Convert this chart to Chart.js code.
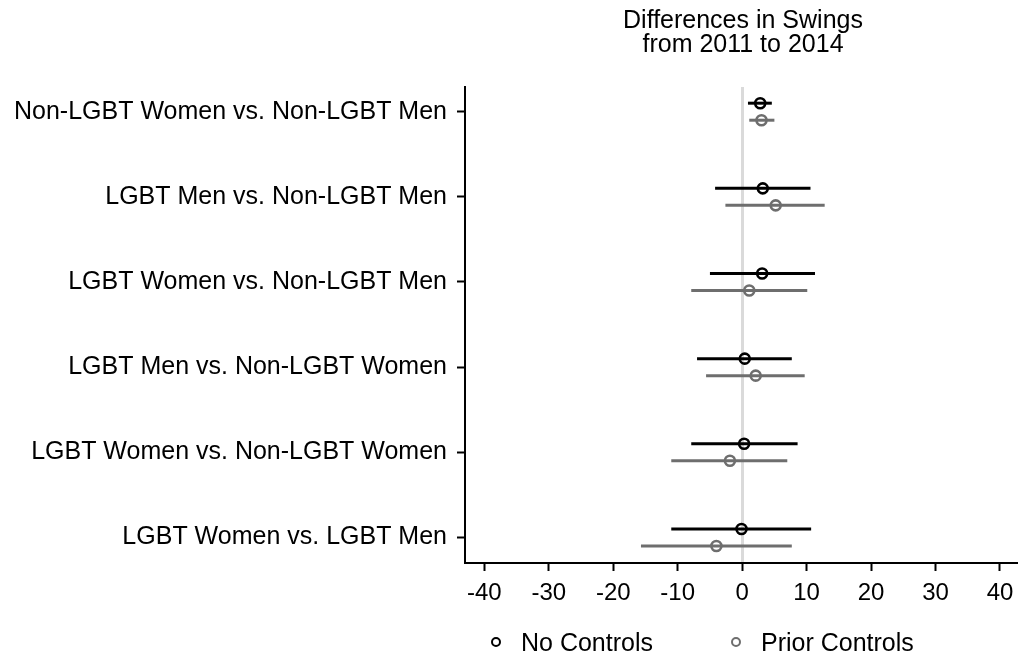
<!DOCTYPE html>
<html>
<head>
<meta charset="utf-8">
<script src="https://cdn.jsdelivr.net/npm/chart.js@4"></script>
<style>
  body { margin: 0; background: #fff; }
  #wrap { position: relative; width: 1025px; height: 659px; font-family: "Liberation Sans", Arial, sans-serif; color: #000; }
  #title { position: absolute; top: 7px; left: 543px; width: 400px; text-align: center; font-size: 25px; line-height: 24px; }
  .leg { position: absolute; top: 627px; font-size: 25px; line-height: 30px; white-space: nowrap; }
  .dot { position: absolute; top: 637px; width: 6px; height: 6px; border-radius: 50%; border: 2px solid #000; }
</style>
</head>
<body>
<div id="wrap">
  <canvas id="swingChart"></canvas>
  <div id="title">Differences in Swings<br>from 2011 to 2014</div>
  <div class="dot" style="left:491px;border-color:#000"></div>
  <div class="leg" style="left:521px">No Controls</div>
  <div class="dot" style="left:731px;border-color:#6e6e6e"></div>
  <div class="leg" style="left:761px">Prior Controls</div>
</div>
<script>
'use strict';

const categories = [
  'Non-LGBT Women vs. Non-LGBT Men',
  'LGBT Men vs. Non-LGBT Men',
  'LGBT Women vs. Non-LGBT Men',
  'LGBT Men vs. Non-LGBT Women',
  'LGBT Women vs. Non-LGBT Women',
  'LGBT Women vs. LGBT Men'
];
const noCtrlEst = [2.8, 3.2, 3.1, 0.4, 0.3, -0.1];
const noCtrlLo = [0.9, -4.2, -5.0, -7.0, -7.9, -11.0];
const noCtrlHi = [4.6, 10.6, 11.3, 7.7, 8.6, 10.7];
const priorEst = [3.0, 5.2, 1.1, 2.1, -1.9, -4.0];
const priorLo = [1.1, -2.6, -7.9, -5.6, -11.0, -15.7];
const priorHi = [5.0, 12.8, 10.1, 9.7, 7.0, 7.7];
const xTicks = [-40, -30, -20, -10, 0, 10, 20, 30, 40];

const font = 'Liberation Sans, Arial, sans-serif';
const black = '#000000';
const grey = '#6e6e6e';

// horizontal CI lines, drawn under the markers
const errorBars = {
  id: 'errorBars',
  beforeDatasetsDraw(chart) {
    const ctx = chart.ctx;
    const xs = chart.scales.x;
    chart.data.datasets.forEach((ds, i) => {
      const meta = chart.getDatasetMeta(i);
      ctx.save();
      ctx.strokeStyle = ds.borderColor;
      ctx.lineWidth = 3;
      meta.data.forEach((pt, j) => {
        ctx.beginPath();
        ctx.moveTo(xs.getPixelForValue(ds.lo[j]), pt.y);
        ctx.lineTo(xs.getPixelForValue(ds.hi[j]), pt.y);
        ctx.stroke();
      });
      ctx.restore();
    });
  }
};

function rows(est, shift) {
  return est.map((v, i) => ({ x: v, y: i + 1 + shift }));
}

let ctx = document.getElementById('swingChart').getContext('2d');
let myChart = new Chart(ctx, {
  type: 'scatter',
  data: {
    datasets: [{
      label: 'No Controls',
      data: rows(noCtrlEst, -0.1),
      lo: noCtrlLo,
      hi: noCtrlHi,
      borderColor: black,
      backgroundColor: 'rgba(0,0,0,0)',
      pointRadius: 5,
      borderWidth: 2.6
    }, {
      label: 'Prior Controls',
      data: rows(priorEst, 0.1),
      lo: priorLo,
      hi: priorHi,
      borderColor: grey,
      backgroundColor: 'rgba(0,0,0,0)',
      pointRadius: 5,
      borderWidth: 2.6
    }]
  },
  options: {
    responsive: true,
    maintainAspectRatio: false,
    animation: false,
    layout: { padding: { top: 87, right: 5, bottom: 0, left: 0 } },
    plugins: {
      legend: { display: false },
      tooltip: { enabled: false }
    },
    scales: {
      x: {
        type: 'linear',
        min: -43,
        max: 42.7,
        afterBuildTicks: (scale) => { scale.ticks = xTicks.map(v => ({ value: v })); },
        afterFit: (scale) => { scale.height = 96; },
        border: { color: black, width: 2 },
        grid: {
          color: (c) => (c.tick && c.tick.value === 0 ? '#dadada' : 'rgba(0,0,0,0)'),
          lineWidth: (c) => (c.tick && c.tick.value === 0 ? 3 : 1),
          tickColor: black,
          tickWidth: 2,
          tickLength: 8
        },
        ticks: { color: black, padding: 8, maxRotation: 0, font: { family: font, size: 24 } }
      },
      y: {
        type: 'linear',
        reverse: true,
        min: 0.71,
        max: 6.3,
        afterBuildTicks: (scale) => { scale.ticks = categories.map((c, i) => ({ value: i + 1 })); },
        afterFit: (scale) => { scale.width = 465; },
        border: { color: black, width: 2 },
        grid: { drawOnChartArea: false, tickColor: black, tickWidth: 2, tickLength: 8 },
        ticks: {
          color: black,
          padding: 10,
          font: { family: font, size: 25 },
          callback: (v) => categories[v - 1]
        }
      }
    }
  },
  plugins: [errorBars]
});
</script>
</body>
</html>
